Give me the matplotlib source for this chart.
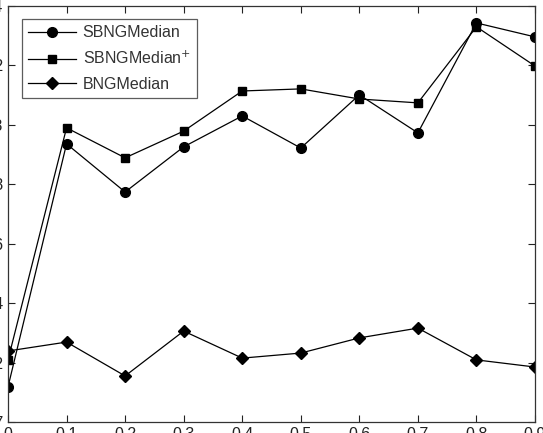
import matplotlib
matplotlib.use("Agg")
import matplotlib.pyplot as plt

plt.rcParams['font.family'] = ['Liberation Sans', 'DejaVu Sans']

x_vals = [0, 0.1, 0.2, 0.3, 0.4, 0.5, 0.6, 0.7, 0.8, 0.9]
sbng_median = [0.7118, 0.7936, 0.7774, 0.7926, 0.8030, 0.7922, 0.8101, 0.7973, 0.8343, 0.8296]
sbng_median_plus = [0.7209, 0.7990, 0.7889, 0.7979, 0.8114, 0.8121, 0.8087, 0.8074, 0.8330, 0.8198]
bng_median = [0.7239, 0.7269, 0.7155, 0.7306, 0.7215, 0.7232, 0.7283, 0.7316, 0.7209, 0.7185]

x_ticks = [0, 0.1, 0.2, 0.3, 0.4, 0.5, 0.6, 0.7, 0.8, 0.9]
x_ticklabels = ['0', '0.1', '0.2', '0.3', '0.4', '0.5', '0.6', '0.7', '0.8', '0.9']
y_ticks = [0.70, 0.72, 0.74, 0.76, 0.78, 0.80, 0.82, 0.84]
y_ticklabels = ['0.7', '0.72', '0.74', '0.76', '0.78', '0.8', '0.82', '0.84']
labels = ['SBNGMedian', 'SBNGMedian$^{+}$', 'BNGMedian']

W, H = 543, 433
fig = plt.figure(figsize=(W / 100, H / 100), dpi=100)
ax = fig.add_axes([8 / W, 1 - 422 / H, (535 - 8) / W, (422 - 6) / H])

ax.plot(x_vals, sbng_median, color='black', lw=0.9, marker='o', ms=7, label=labels[0])
ax.plot(x_vals, sbng_median_plus, color='black', lw=0.9, marker='s', ms=5.5, label=labels[1])
ax.plot(x_vals, bng_median, color='black', lw=0.9, marker='D', ms=6.5, label=labels[2])

ax.set_xlim(0, 0.9)
ax.set_ylim(0.70, 0.84)
ax.set_xticks(x_ticks)
ax.set_xticklabels(x_ticklabels)
ax.set_yticks(y_ticks)
ax.set_yticklabels(y_ticklabels)
ax.tick_params(direction='in', top=True, right=True, length=5, width=0.8,
               labelsize=11.5, colors='#222222')
for s in ax.spines.values():
    s.set_linewidth(0.9)
    s.set_color('#333333')

leg = ax.legend(loc='upper left', bbox_to_anchor=(14 / 527, 1 - 13 / 416),
                fontsize=11.5, frameon=True, fancybox=False, edgecolor='#333333',
                handlelength=3.0, borderaxespad=0, labelspacing=0.6,
                borderpad=0.4, handletextpad=0.4)
leg.get_frame().set_linewidth(0.9)
for t in leg.get_texts():
    t.set_color('#333333')

fig.savefig('out.png', dpi=100)
